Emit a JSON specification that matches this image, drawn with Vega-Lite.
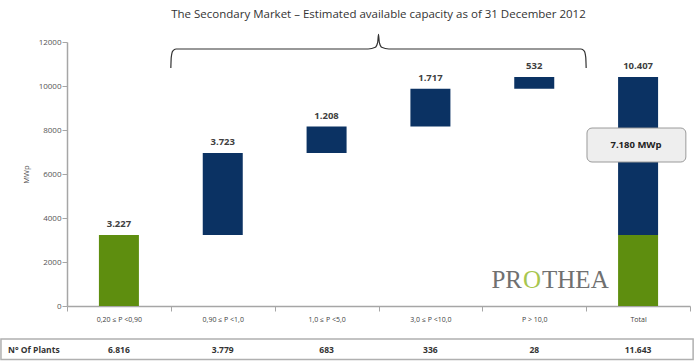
{
  "$schema": "https://vega.github.io/schema/vega-lite/v6.json",
  "width": 623,
  "height": 264,
  "autosize": {"type": "none"},
  "padding": {"left": 67, "top": 42, "right": 10, "bottom": 55},
  "background": "white",
  "title": {"text": "The Secondary Market – Estimated  available capacity as of 31 December 2012", "font": "Open Sans", "fontSize": 11.5, "fontWeight": "normal", "color": "#333333", "frame": "group", "anchor": "middle", "offset": 11},
  "config": {"view": {"stroke": null}},
  "datasets": {
    "bars": [
      {"cat": "0,20 ≤ P <0,90", "part": "base", "start": 0, "end": 3227},
      {"cat": "0,90 ≤ P <1,0", "part": "step", "start": 3227, "end": 6950},
      {"cat": "1,0 ≤ P <5,0", "part": "step", "start": 6950, "end": 8158},
      {"cat": "3,0 ≤ P <10,0", "part": "step", "start": 8158, "end": 9875},
      {"cat": "P > 10,0", "part": "step", "start": 9875, "end": 10407},
      {"cat": "Total", "part": "base", "start": 0, "end": 3227},
      {"cat": "Total", "part": "step", "start": 3227, "end": 10407}
    ],
    "cats": [
      {"cat": "0,20 ≤ P <0,90", "top": 3227, "label": "3.227", "plants": "6.816"},
      {"cat": "0,90 ≤ P <1,0", "top": 6950, "label": "3.723", "plants": "3.779"},
      {"cat": "1,0 ≤ P <5,0", "top": 8158, "label": "1.208", "plants": "683"},
      {"cat": "3,0 ≤ P <10,0", "top": 9875, "label": "1.717", "plants": "336"},
      {"cat": "P > 10,0", "top": 10407, "label": "532", "plants": "28"},
      {"cat": "Total", "top": 10407, "label": "10.407", "plants": "11.643"}
    ],
    "brace": [
      {"i": 0, "u": 1.0, "v": 10818},
      {"i": 1, "u": 1.004, "v": 11300},
      {"i": 2, "u": 1.018, "v": 11590},
      {"i": 3, "u": 1.05, "v": 11682},
      {"i": 4, "u": 2.9, "v": 11682},
      {"i": 5, "u": 2.97, "v": 11760},
      {"i": 6, "u": 2.992, "v": 11980},
      {"i": 7, "u": 3.0, "v": 12350},
      {"i": 8, "u": 3.008, "v": 11980},
      {"i": 9, "u": 3.03, "v": 11760},
      {"i": 10, "u": 3.1, "v": 11682},
      {"i": 11, "u": 4.95, "v": 11682},
      {"i": 12, "u": 4.982, "v": 11590},
      {"i": 13, "u": 4.996, "v": 11300},
      {"i": 14, "u": 5.0, "v": 10818}
    ]
  },
  "layer": [
    {
      "layer": [
        {
          "data": {"name": "bars"},
          "mark": {"type": "bar", "width": 40},
          "encoding": {
            "x": {"field": "cat", "type": "nominal",
              "scale": {"domain": ["0,20 ≤ P <0,90", "0,90 ≤ P <1,0", "1,0 ≤ P <5,0", "3,0 ≤ P <10,0", "P > 10,0", "Total"], "paddingInner": 0, "paddingOuter": 0},
              "axis": {"title": null, "labelAngle": 0, "labelFont": "Open Sans", "labelFontSize": 7, "labelColor": "#404040", "domainColor": "#a6a6a6", "domainWidth": 1.5, "tickColor": "#a6a6a6", "tickSize": 5, "tickBand": "extent", "labelPadding": 4}},
            "y": {"field": "start", "type": "quantitative",
              "scale": {"domain": [0, 12000], "nice": false},
              "axis": {"values": [0, 2000, 4000, 6000, 8000, 10000, 12000], "format": "d", "grid": false, "labelFont": "Open Sans", "labelFontSize": 8, "labelColor": "#555555", "tickSize": 5, "tickColor": "#a6a6a6", "domainColor": "#a6a6a6", "domainWidth": 1.5, "labelPadding": 1, "title": "MWp", "titleFont": "Open Sans", "titleFontSize": 7.5, "titleFontWeight": "normal", "titleColor": "#555555", "titlePadding": 8}},
            "y2": {"field": "end"},
            "color": {"field": "part", "type": "nominal", "scale": {"domain": ["base", "step"], "range": ["#5e8e0f", "#0b3263"]}, "legend": null}
          }
        },
        {
          "data": {"name": "cats"},
          "mark": {"type": "text", "font": "Open Sans", "fontSize": 9.5, "fontWeight": "bold", "color": "#404040", "baseline": "alphabetic", "dy": -8},
          "encoding": {
            "x": {"field": "cat", "type": "nominal"},
            "y": {"field": "top", "type": "quantitative"},
            "text": {"field": "label"}
          }
        },
        {
          "data": {"name": "cats"},
          "mark": {"type": "text", "font": "Open Sans", "fontSize": 8.5, "fontWeight": "bold", "color": "#333333", "baseline": "middle"},
          "encoding": {
            "x": {"field": "cat", "type": "nominal"},
            "y": {"datum": -2000},
            "text": {"field": "plants"}
          }
        }
      ]
    },
    {
      "layer": [
        {
          "data": {"name": "brace"},
          "mark": {"type": "line", "interpolate": "monotone", "color": "#333333", "strokeWidth": 1.2},
          "encoding": {
            "x": {"field": "u", "type": "quantitative", "scale": {"domain": [0, 6], "nice": false, "zero": false}, "axis": null},
            "y": {"field": "v", "type": "quantitative", "axis": null},
            "order": {"field": "i"}
          }
        },
        {
          "data": {"values": [{"u1": 5.008, "u2": 5.96, "v1": 6545, "v2": 8090}]},
          "mark": {"type": "rect", "cornerRadius": 5, "fill": "#eeeeee", "stroke": "#9a9a9a", "strokeWidth": 1},
          "encoding": {
            "x": {"field": "u1", "type": "quantitative"},
            "x2": {"field": "u2"},
            "y": {"field": "v1", "type": "quantitative", "axis": null},
            "y2": {"field": "v2"}
          }
        },
        {
          "data": {"values": [{"u": 5.48, "v": 7318, "t": "7.180 MWp"}]},
          "mark": {"type": "text", "font": "Open Sans", "fontSize": 9.5, "fontWeight": "bold", "color": "#222222", "baseline": "middle"},
          "encoding": {
            "x": {"field": "u", "type": "quantitative"},
            "y": {"field": "v", "type": "quantitative", "axis": null},
            "text": {"field": "t"}
          }
        },
        {
          "data": {"values": [{"u": 4.382, "v": 818, "t": "PR"}]},
          "mark": {"type": "text", "font": "Liberation Serif", "fontSize": 25, "color": "#707070", "align": "right", "baseline": "alphabetic"},
          "encoding": {
            "x": {"field": "u", "type": "quantitative"},
            "y": {"field": "v", "type": "quantitative", "axis": null},
            "text": {"field": "t"}
          }
        },
        {
          "data": {"values": [{"u": 4.478, "v": 818, "t": "O"}]},
          "mark": {"type": "text", "font": "Liberation Serif", "fontSize": 25, "color": "#a8c64e", "align": "center", "baseline": "alphabetic"},
          "encoding": {
            "x": {"field": "u", "type": "quantitative"},
            "y": {"field": "v", "type": "quantitative", "axis": null},
            "text": {"field": "t"}
          }
        },
        {
          "data": {"values": [{"u": 4.575, "v": 818, "t": "THEA"}]},
          "mark": {"type": "text", "font": "Liberation Serif", "fontSize": 25, "color": "#707070", "align": "left", "baseline": "alphabetic"},
          "encoding": {
            "x": {"field": "u", "type": "quantitative"},
            "y": {"field": "v", "type": "quantitative", "axis": null},
            "text": {"field": "t"}
          }
        },
        {
          "data": {"values": [{"u1": -0.636, "u2": 6.03, "v1": -1500, "v2": -2430}]},
          "mark": {"type": "rect", "fill": null, "stroke": "#b0b0b0", "strokeWidth": 1.5},
          "encoding": {
            "x": {"field": "u1", "type": "quantitative"},
            "x2": {"field": "u2"},
            "y": {"field": "v1", "type": "quantitative", "axis": null},
            "y2": {"field": "v2"}
          }
        },
        {
          "data": {"values": [{"u": -0.568, "v": -2000, "t": "N° Of Plants"}]},
          "mark": {"type": "text", "font": "Open Sans", "fontSize": 8.5, "fontWeight": "bold", "color": "#333333", "align": "left", "baseline": "middle"},
          "encoding": {
            "x": {"field": "u", "type": "quantitative"},
            "y": {"field": "v", "type": "quantitative", "axis": null},
            "text": {"field": "t"}
          }
        }
      ]
    }
  ],
  "resolve": {"scale": {"x": "independent"}, "axis": {"y": "independent"}}
}
